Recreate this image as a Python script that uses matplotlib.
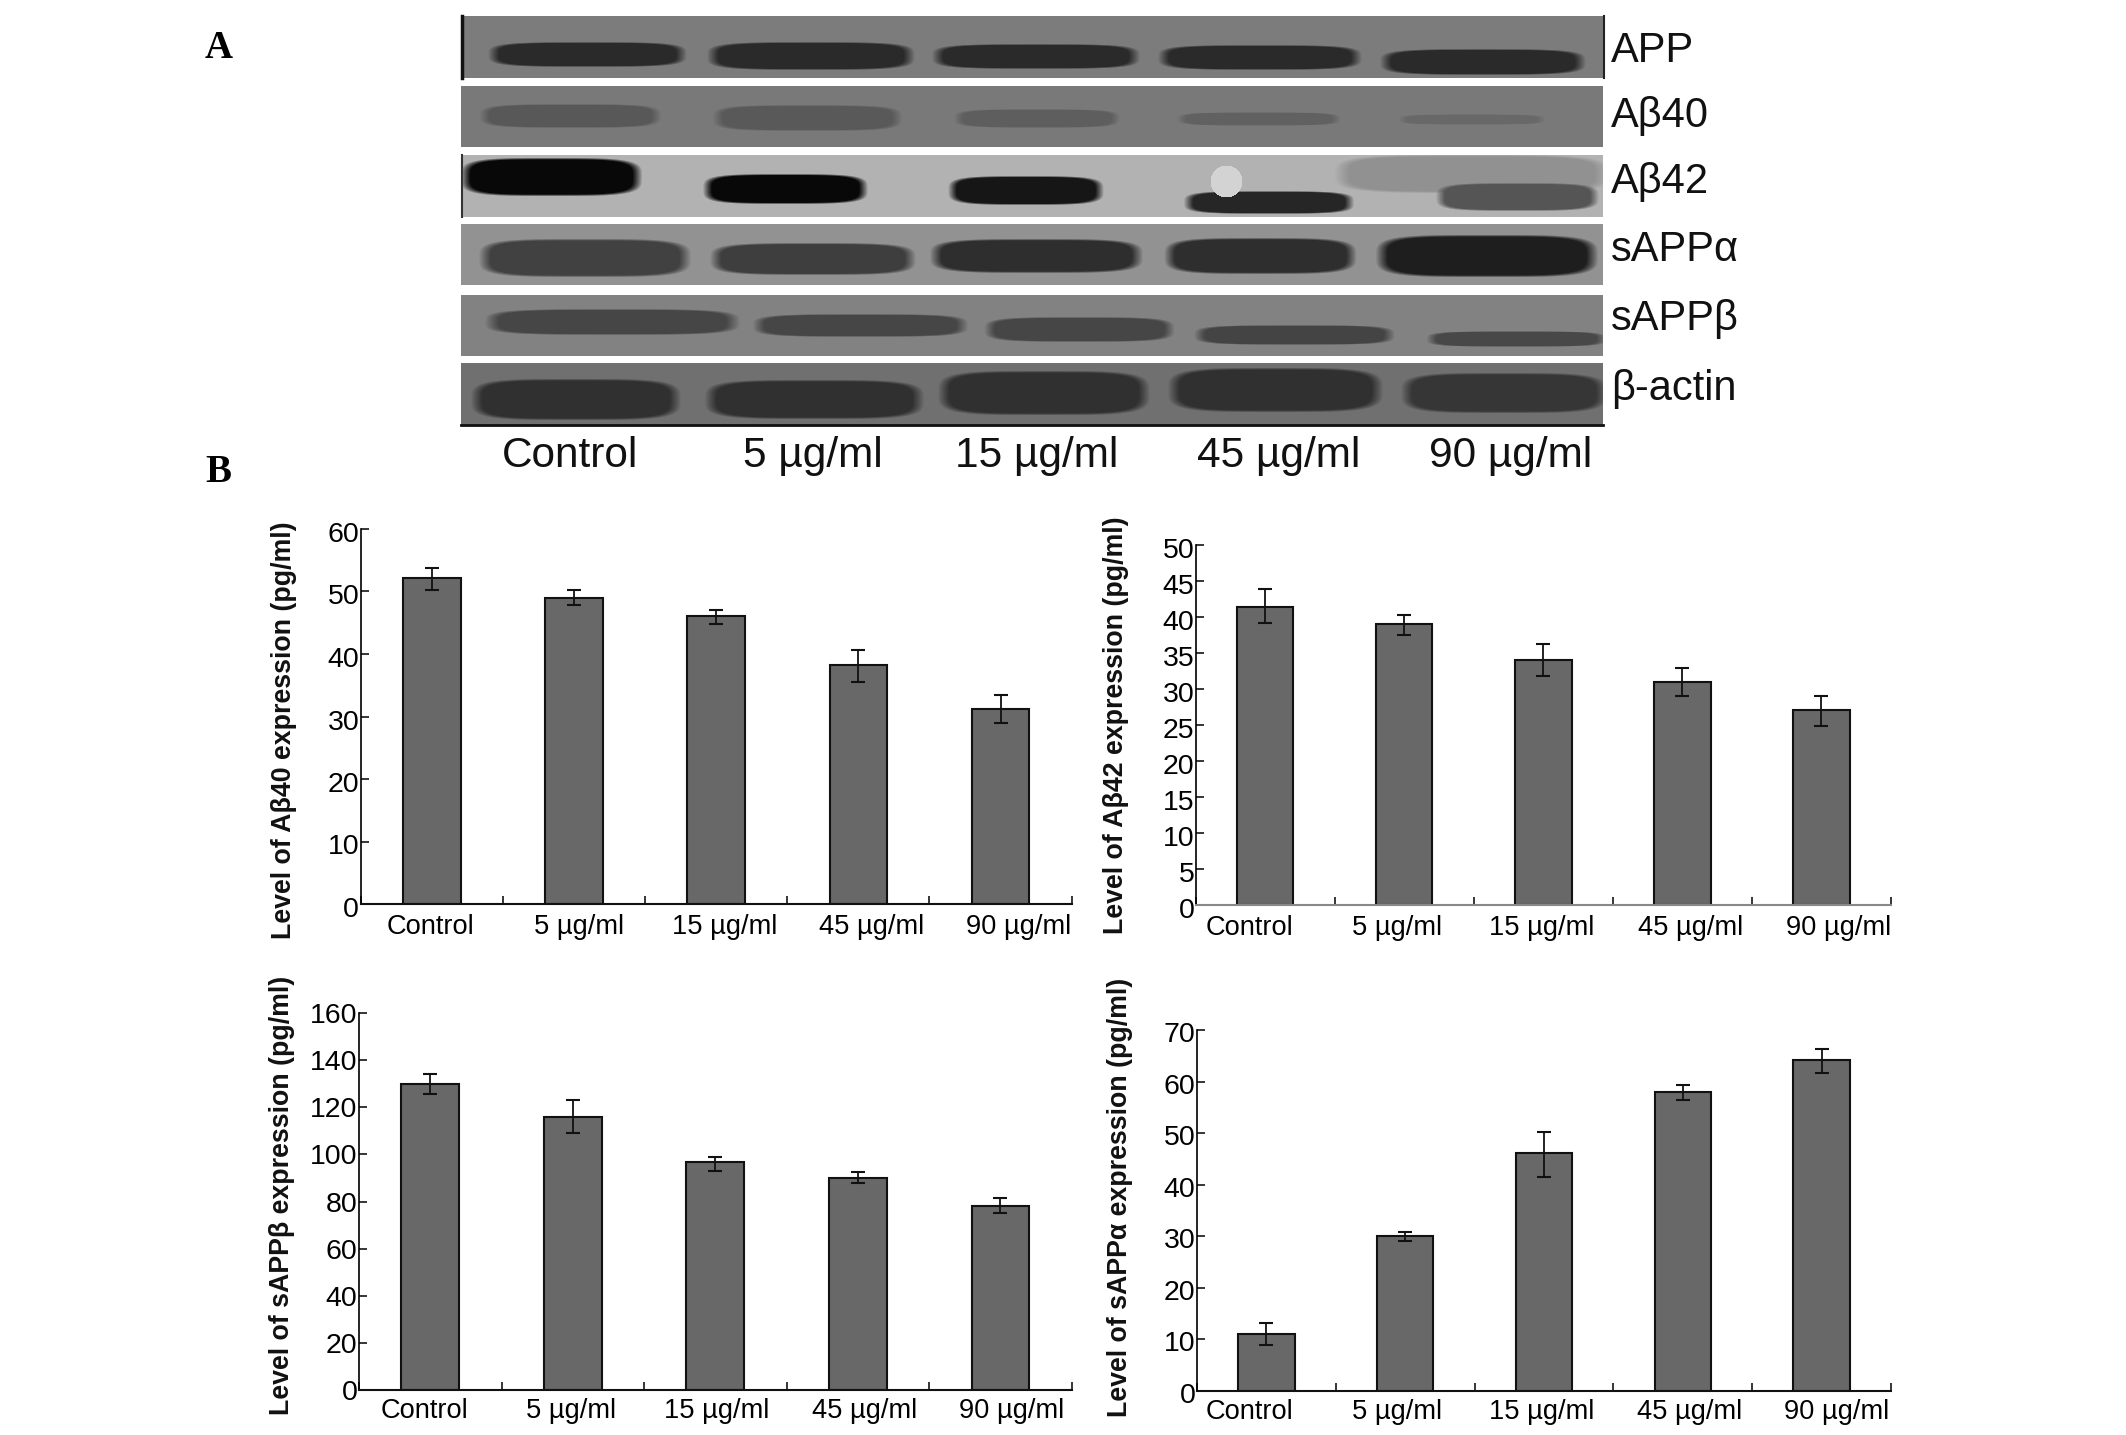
import numpy as np
import matplotlib
matplotlib.use("Agg")
import matplotlib.pyplot as plt
from matplotlib.transforms import ScaledTranslation

W, H = 2126, 1435
plt.rcParams["font.family"] = ["Liberation Sans", "DejaVu Sans"]

doses = ["Control", "5 µg/ml", "15 µg/ml", "45 µg/ml", "90 µg/ml"]

# bar charts: value, top of error bar, bottom of error bar
ab40 = [52.1, 49.0, 46.1, 38.2, 31.2]
ab40_hi = [53.7, 50.2, 47.1, 40.7, 33.4]
ab40_lo = [50.2, 47.9, 44.8, 35.5, 28.9]

ab42 = [41.4, 39.0, 34.0, 31.0, 27.1]
ab42_hi = [43.9, 40.3, 36.2, 32.9, 29.0]
ab42_lo = [39.2, 37.5, 31.8, 29.0, 24.9]

sappb = [130, 115.9, 96.6, 89.9, 78.2]
sappb_hi = [134.3, 123.2, 98.9, 92.4, 81.3]
sappb_lo = [125.8, 109, 92.9, 88, 75.2]

sappa = [11.1, 30.1, 46.2, 58, 64.2]
sappa_hi = [13.2, 30.9, 50.3, 59.3, 66.3]
sappa_lo = [8.9, 29.1, 41.5, 56.5, 61.6]

# blot strips: name, top, bottom, background grey
strip_names = ["APP", "Aβ40", "Aβ42", "sAPPα", "sAPPβ", "β-actin"]
strip_top = [16, 86, 155, 224, 295, 363]
strip_bottom = [78, 147, 217, 285, 356, 425]
strip_grey = [124, 122, 178, 146, 130, 112]
strip_label_y = [51, 116, 182, 250, 319, 389]

# bands per strip: left, right, top, bottom, grey (picture pixels)
app_bands = [(492, 682, 42, 66, 42), (711, 910, 42, 69, 42), (936, 1135, 44, 68, 42),
             (1162, 1357, 45, 69, 42), (1384, 1581, 49, 74, 42)]
ab40_bands = [(483, 657, 104, 127, 88), (716, 898, 105, 130, 90), (957, 1116, 109, 127, 94),
              (1180, 1337, 112, 125, 98), (1401, 1542, 114, 124, 104)]
ab42_bands = [(1340, 1603, 155, 192, 145), (464, 638, 158, 195, 8), (706, 864, 174, 203, 8),
              (951, 1100, 176, 204, 22), (1187, 1350, 191, 213, 38), (1439, 1595, 183, 210, 85)]
sappa_bands = [(483, 686, 239, 276, 66), (714, 911, 243, 274, 62), (934, 1138, 239, 272, 46),
               (1168, 1352, 238, 273, 46), (1380, 1593, 235, 276, 30)]
sappb_bands = [(490, 734, 309, 334, 70), (757, 963, 314, 336, 70), (988, 1170, 317, 341, 70),
               (1198, 1390, 325, 344, 68), (1430, 1602, 331, 346, 72)]
actin_bands = [(475, 676, 379, 419, 48), (709, 919, 380, 418, 48), (942, 1145, 371, 414, 48),
               (1172, 1378, 368, 411, 48), (1405, 1602, 373, 412, 54)]
all_bands = [app_bands, ab40_bands, ab42_bands, sappa_bands, sappb_bands, actin_bands]

# tick label vertical shift of the y axes in each panel, pixels
fig = plt.figure(figsize=(W / 100, H / 100), dpi=100, facecolor="white")


def px_axes(left, right, top, bottom):
    return fig.add_axes([left / W, 1 - bottom / H, (right - left) / W, (bottom - top) / H])


# panel A
bg = px_axes(0, W, 0, H)
bg.set_xlim(0, W)
bg.set_ylim(H, 0)
bg.axis("off")
strip_left, strip_right = 461, 1603
for i, name in enumerate(strip_names):
    t, b = strip_top[i], strip_bottom[i]
    xx, yy = np.meshgrid(np.arange(strip_left, strip_right), np.arange(t, b))
    img = np.full(xx.shape, float(strip_grey[i]))
    for l, r, bt, bb, g in all_bands[i]:
        cx, cy = (l + r) / 2, (bt + bb) / 2
        dist = np.abs((xx - cx) / ((r - l) / 2)) ** 4 + np.abs((yy - cy) / ((bb - bt) / 2)) ** 4
        a = np.clip((1.2 - dist) / 0.45, 0, 1)
        img = img * (1 - a) + g * a
    if name == "Aβ42":
        # pale spot over the fourth band
        dist = ((xx - 1226) / 16) ** 2 + ((yy - 181) / 16) ** 2
        img = np.where(dist < 1, 212, img)
    bg.imshow(img, cmap="gray", vmin=0, vmax=255, extent=(strip_left, strip_right, b, t),
              aspect="auto", interpolation="bilinear", zorder=1)
    bg.text(1611, strip_label_y[i], name, fontsize=30, va="center", ha="left", color="#111111")
bg.set_xlim(0, W)
bg.set_ylim(H, 0)
bg.plot([461, 1603], [425, 425], color="#111111", lw=2)
bg.plot([462, 462], [16, 78], color="#111111", lw=2.5)
bg.plot([462, 462], [155, 217], color="#333333", lw=1.5)
bg.plot([1604, 1604], [16, 78], color="#222222", lw=1.5)

blot_label_x = [570, 813, 1037, 1279, 1511]
for x, name in zip(blot_label_x, doses):
    bg.text(x, 456, name, fontsize=30.5, ha="center", va="center", color="#111111")

bg.text(219, 49, "A", fontsize=28, fontweight="bold", family="Liberation Serif", ha="center", va="center")
bg.text(218, 473, "B", fontsize=28, fontweight="bold", family="Liberation Serif", ha="center", va="center")

# panel B
panels = [
    dict(box=(360.6, 1071.7, 529, 904), ymax=60, step=10, vals=ab40, hi=ab40_hi, lo=ab40_lo,
         labx=[0.49, 1.536, 2.557, 3.594, 4.627], ylab="Level of Aβ40 expression (pg/ml)",
         ylab_xy=(284, 730), spine="#111111", pad=7, yshift=3),
    dict(box=(1195.7, 1891, 545, 905), ymax=50, step=5, vals=ab42, hi=ab42_hi, lo=ab42_lo,
         labx=[0.39, 1.45, 2.49, 3.56, 4.62], ylab="Level of Aβ42 expression (pg/ml)",
         ylab_xy=(1116, 725), spine="#888888", pad=7, yshift=3),
    dict(box=(359, 1071.7, 1013, 1390), ymax=160, step=20, vals=sappb, hi=sappb_hi, lo=sappb_lo,
         labx=[0.46, 1.49, 2.51, 3.55, 4.58], ylab="Level of sAPPβ expression (pg/ml)",
         ylab_xy=(282, 1195), spine="#111111", pad=5.5, yshift=0),
    dict(box=(1197, 1891, 1030, 1391), ymax=70, step=10, vals=sappa, hi=sappa_hi, lo=sappa_lo,
         labx=[0.375, 1.44, 2.48, 3.55, 4.61], ylab="Level of sAPPα expression (pg/ml)",
         ylab_xy=(1120, 1197), spine="#111111", pad=5.5, yshift=2),
]

for p in panels:
    ax = px_axes(p["box"][0], p["box"][1], p["box"][2], p["box"][3])
    ax.patch.set_alpha(0)
    x = np.arange(5) + 0.5
    vals = np.array(p["vals"])
    yerr = [vals - np.array(p["lo"]), np.array(p["hi"]) - vals]
    ax.bar(x, vals, width=0.405, color="#686868", edgecolor="#111111", linewidth=1.5,
           yerr=yerr, ecolor="#111111", capsize=5.2, error_kw=dict(elinewidth=1.3, capthick=1.5))
    ax.set_xlim(0, 5)
    ax.set_ylim(0, p["ymax"])
    ax.set_yticks(np.arange(0, p["ymax"] + 1, p["step"]))
    ax.set_xticks(np.arange(0, 6))
    ax.set_xticklabels([])
    ax.set_xticks(p["labx"], doses, minor=True)
    ax.tick_params(axis="x", which="major", direction="in", length=6, width=1.1)
    ax.tick_params(axis="x", which="minor", length=0, pad=p["pad"], labelsize=19.6)
    ax.tick_params(axis="y", direction="in", length=6, width=1.1, pad=1, labelsize=20.5)
    shift = ScaledTranslation(0, -p["yshift"] / 100, fig.dpi_scale_trans)
    for lab in ax.get_yticklabels():
        lab.set_transform(lab.get_transform() + shift)
    for s in ["top", "right"]:
        ax.spines[s].set_visible(False)
    ax.spines["left"].set_linewidth(1.2)
    ax.spines["bottom"].set_linewidth(1.5)
    ax.spines["bottom"].set_color(p["spine"])
    fig.text(p["ylab_xy"][0] / W, 1 - p["ylab_xy"][1] / H, p["ylab"], rotation=90, fontsize=19.3,
             fontweight="bold", ha="center", va="center", color="#111111")

fig.savefig("out.png", dpi=100)
